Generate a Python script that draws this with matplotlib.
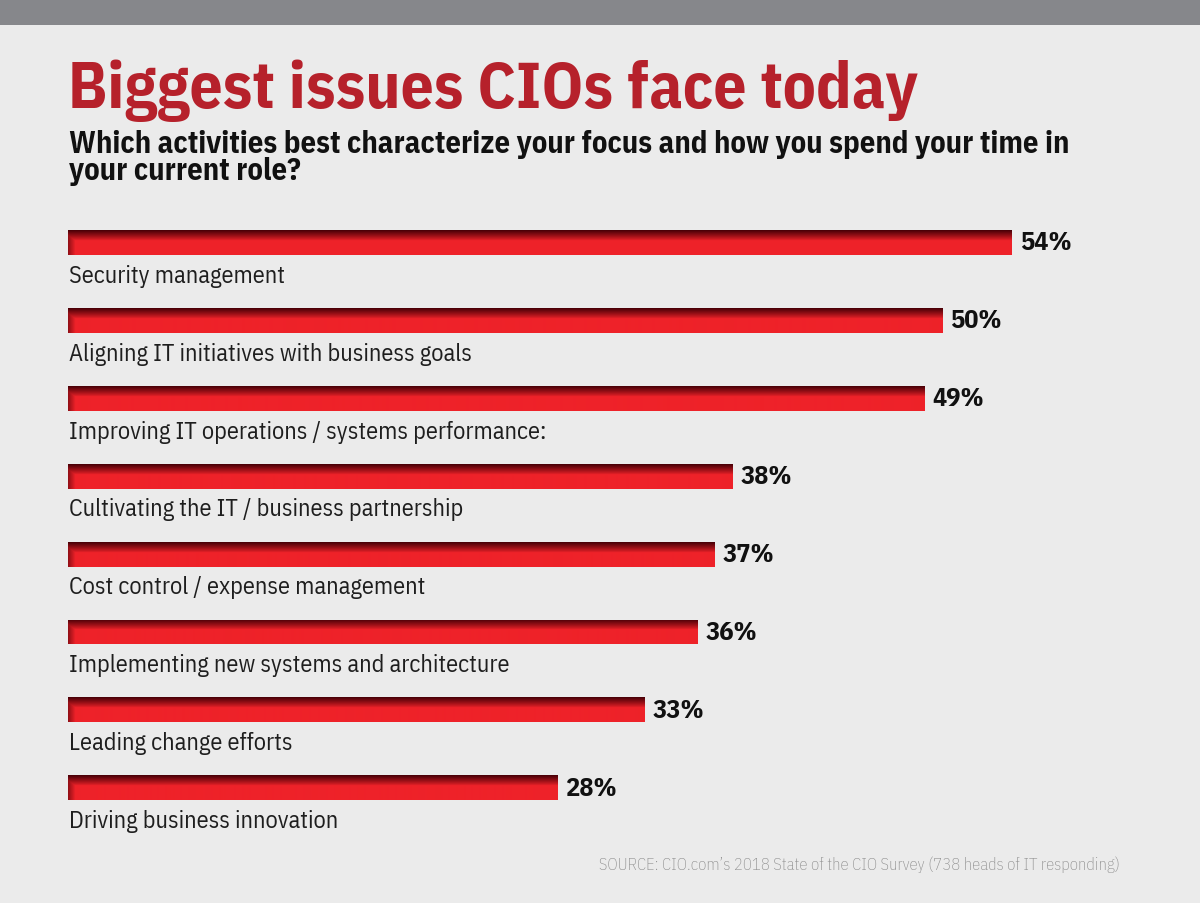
import numpy as np
import matplotlib.pyplot as plt
from matplotlib.colors import to_rgb

categories = [
    "Security management",
    "Aligning IT initiatives with business goals",
    "Improving IT operations / systems performance:",
    "Cultivating the IT / business partnership",
    "Cost control / expense management",
    "Implementing new systems and architecture",
    "Leading change efforts",
    "Driving business innovation",
]
values = [54, 50, 49, 38, 37, 36, 33, 28]

title = "Biggest issues CIOs face today"
subtitle = ["Which activities best characterize your focus and how you spend your time in",
            "your current role?"]
source = "SOURCE: CIO.com\u2019s 2018 State of the CIO Survey (738 heads of IT responding)"

W, H = 1200, 904
bg = "#ebebeb"
fam = ["IBM Plex Sans Condensed", "DejaVu Sans"]
bold = dict(family=fam, fontweight="bold")
light = dict(family=fam, fontweight="normal")

fig = plt.figure(figsize=(W / 100, H / 100), dpi=100, facecolor=bg)

# grey band on top
fig.patches.append(plt.Rectangle((0, 1 - 26 / H), 1, 26 / H, transform=fig.transFigure,
                                 facecolor="#86878b", edgecolor="none"))

fig.text(68 / W, 1 - 108 / H, title, fontsize=47, color="#b6212b", va="baseline", **bold)
for line, base in zip(subtitle, [153, 180]):
    fig.text(69 / W, 1 - base / H, line, fontsize=22, color="#111111", va="baseline", **bold)
fig.text(1120 / W, 1 - 870 / H, source, fontsize=12, color="#8c8c8c",
         ha="right", va="baseline", family=fam, fontweight="light")

# axes: 8 slots of ~77.9 px, first bar centred at y=243.5 px
slot = 77.9
top = 243.5 - slot / 2
ax_w = 1012 - 68
ax = fig.add_axes([68 / W, 1 - (top + 8 * slot) / H, ax_w / W, 8 * slot / H])
ax.set_facecolor("none")
ax.axis("off")

bright = np.array(to_rgb("#ee2229"))
dark = np.array(to_rgb("#4c0007"))


def shade_image(width_px, height_px=25):
    # dark band along the top edge, slight shadow on the left edge
    ty = np.linspace(0, 1, height_px).reshape(-1, 1)
    tx = np.arange(width_px).reshape(1, -1)
    dy = np.clip(1 - ty / 0.42, 0, 1) ** 0.9
    dx = np.clip(1 - tx / 7.0, 0, 1) * 0.55
    d = np.maximum(dy, dx)[..., None]
    return bright * (1 - d) + dark * d


y = np.arange(len(values))
bars = ax.barh(y, values, height=0.32, color="#ee2229", edgecolor="none")
for b, v in zip(bars, values):
    x0, y0 = b.get_x(), b.get_y()
    img = shade_image(max(int(ax_w * v / max(values)), 8))
    im = ax.imshow(img, aspect="auto", interpolation="bilinear",
                   extent=(x0, x0 + b.get_width(), y0 + b.get_height(), y0), zorder=3)
    im.set_clip_path(b)

ax.set_xlim(0, max(values))
ax.set_ylim(len(values) - 0.5, -0.5)

for yi, v, c in zip(y, values, categories):
    ax.text(v + 0.45, yi, f"{v}%", fontsize=19, color="#111111",
            va="center", ha="left", clip_on=False, **bold)
    ax.text(0.05, yi + 0.42, c, fontsize=17.5, color="#1e1e1e",
            va="center", ha="left", clip_on=False, **light)

fig.savefig("out.png", dpi=100, facecolor=bg)
